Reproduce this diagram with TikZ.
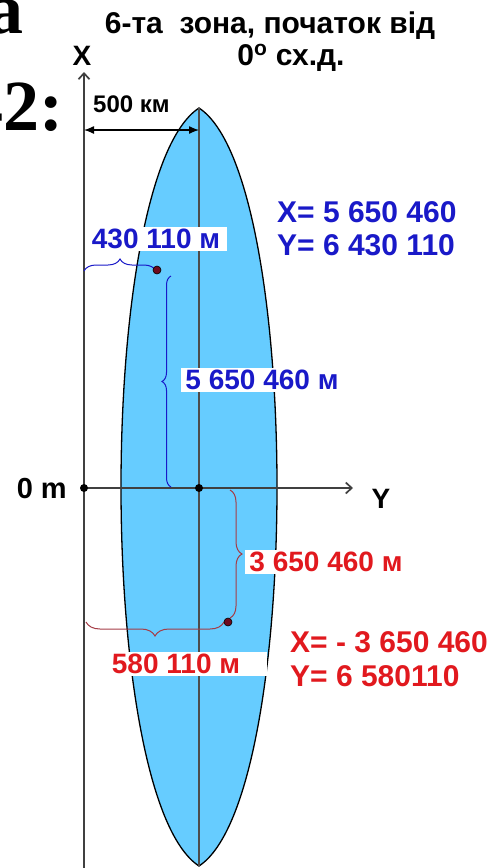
\documentclass[tikz,border=0pt]{standalone}
\usepackage{fontspec}
\setmainfont{Liberation Sans}
\newfontfamily\bigserif{Liberation Serif}
\usetikzlibrary{arrows.meta, calc, decorations.pathreplacing}
\definecolor{zonefill}{RGB}{102,204,255}
\definecolor{txtblue}{RGB}{25,25,200}
\definecolor{txtred}{RGB}{225,25,30}
\definecolor{bracered}{RGB}{165,60,70}
\definecolor{dotred}{RGB}{110,10,30}
\newcommand{\fs}[1]{\fontsize{#1}{#1}\selectfont}

\begin{document}
\begin{tikzpicture}[
    x=1pt, y=-1pt,
    every node/.style={font=\bfseries\fs{28}, inner sep=0pt},
    coord/.style={font=\bfseries\fs{30}, anchor=base west},
    axis/.style={line width=1.7pt, black!75},
    zone/.style={draw=black, line width=1.3pt, fill=zonefill},
    midline/.style={line width=1.2pt, black!70},
    bluebox/.style={fill=white, text=txtblue, inner xsep=4pt, inner ysep=2pt},
    redbox/.style={fill=white, text=txtred, inner xsep=4pt, inner ysep=2pt},
    bluebrace/.style={decorate, decoration={brace, amplitude=#1}, draw=txtblue, line width=1pt},
    redbrace/.style={decorate, decoration={brace, amplitude=#1}, draw=bracered, line width=1pt},
    pt/.style={fill=dotred, draw=black, line width=0.6pt},
]
\useasboundingbox (0,0) rectangle (489,868);
% cut-off words at the left border
\node[font=\bigserif\bfseries\fs{72}, anchor=base east] (cuta) at (24,33) {а};
\node[font=\bigserif\bfseries\fs{72}, anchor=base east] (cut42) at (64,130) {42:};
% heading
\node[font=\bfseries\fs{30}, anchor=base] (ttl1) at (270,33) {6-та~ зона, початок від};
\node[font=\bfseries\fs{30}, anchor=base] (ttl2) at (291,65) {0\textsuperscript{o} сх.д.};
% the zone itself
\coordinate (top) at (199,108);
\coordinate (bot) at (199,866);
\draw[zone] (top) .. controls (95,176) and (95,798) .. (bot)
                  .. controls (303,798) and (303,176) .. (top) -- cycle;
\draw[midline] (top) -- (bot);
% axes
\coordinate (O) at (84,488);
\coordinate (C) at (199,488);
\coordinate (Xtip) at (84,72);
\coordinate (Ytip) at (353,488);
\draw[axis, -{Straight Barb[length=6pt, width=11pt]}] (84,868) -- (Xtip);
\draw[axis, -{Straight Barb[length=6pt, width=11pt]}] (O) -- (Ytip);
\node[anchor=base] (xlab) at (82,65) {X};
\node[anchor=base] (ylab) at (381,508) {Y};
\node[font=\bfseries\fs{29}, anchor=base east] (zero) at (67,498) {0 m};
\fill (O) circle[radius=4pt];
\fill (C) circle[radius=4pt];
% 500 km from the axis to the central meridian
\coordinate (k0) at (84,130);
\coordinate (k1) at (199,130);
\draw[line width=1.3pt, {Latex[length=10pt, width=8pt]}-{Latex[length=10pt, width=8pt]}] (k0) -- (k1);
\node[font=\bfseries\fs{24}, anchor=base west] (km) at (93,112) {500 км};
% point with positive X
\coordinate (P) at (157,270);
\draw[bluebrace=12] (84,271) -- (156,271);
\draw[bluebrace=9] (171,487) -- (171,276);
\node[bluebox, minimum width=142pt] (py) at (156,239) {430 110 м};
\node[bluebox] (px) at (262,380) {5 650 460 м};
\filldraw[pt] (P) circle[radius=4pt];
\node[coord, text=txtblue] (bx) at (277,222) {X= 5 650 460};
\node[coord, text=txtblue] (by) at (277,255) {Y= 6 430 110};
% point with negative X
\coordinate (Q) at (228,622);
\draw[redbrace=12] (230,490) -- (230,618);
\draw[redbrace=14] (224,622) -- (86,622);
\node[redbox] (qx) at (326,562) {3 650 460 м};
\node[redbox, minimum width=182pt] (qy) at (176,664) {580 110 м};
\filldraw[pt] (Q) circle[radius=4pt];
\node[coord, text=txtred] (rx) at (290,652) {X= - 3 650 460};
\node[coord, text=txtred] (ry) at (290,686) {Y= 6 580110};
\end{tikzpicture}
\end{document}
